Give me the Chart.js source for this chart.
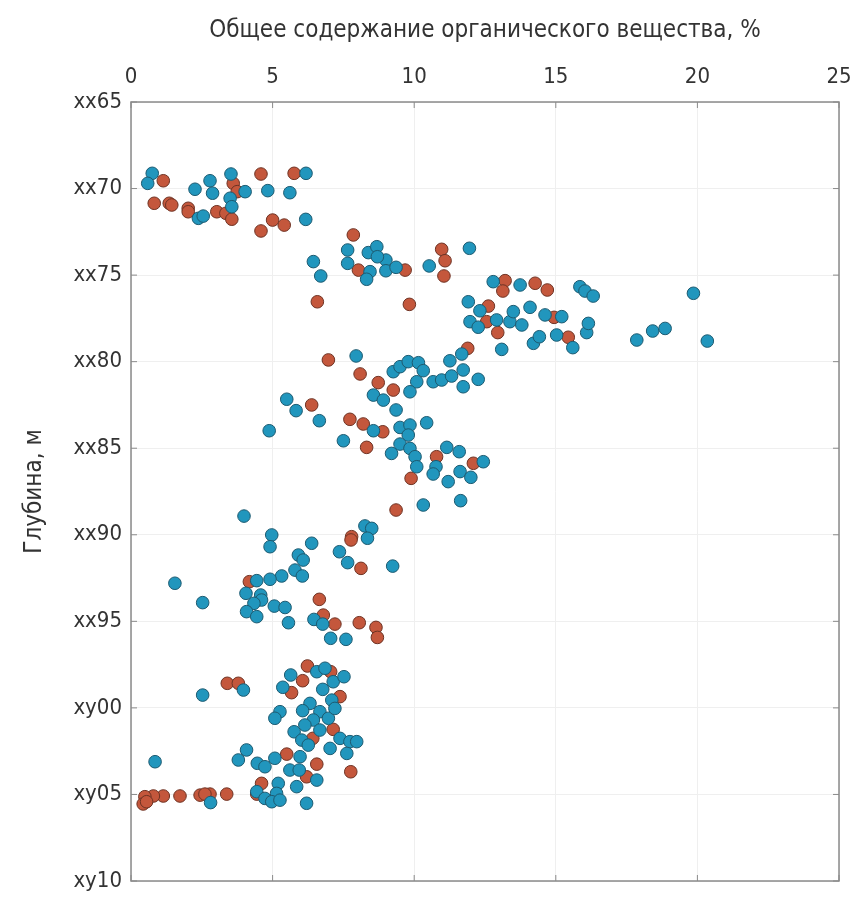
<!DOCTYPE html>
<html>
<head>
<meta charset="utf-8">
<script src="https://cdn.jsdelivr.net/npm/chart.js@4"></script>
<style>
  html, body { margin: 0; padding: 0; background: #fff; }
  #wrap { width: 859px; height: 897px; }
</style>
</head>
<body>
<div id="wrap"><canvas id="chart"></canvas></div>
<script>
// Данные: содержание органического вещества (%) и глубина (м)
const blueX = [
  0.75, 0.59, 2.26, 2.79, 2.88, 2.38, 2.55, 3.53, 4.03, 3.50, 3.56, 4.83, 6.18, 5.61, 6.17,
  7.65, 8.38, 8.68, 9.00, 8.70, 8.44, 8.32, 7.65, 9.00, 9.36, 6.44, 6.70, 10.53, 11.95, 12.79,
  13.74, 15.85, 16.03, 16.32, 11.91, 12.32, 11.97, 12.26, 12.91, 13.38, 13.50, 13.80, 14.09, 14.62, 15.21,
  14.21, 14.42, 15.03, 15.60, 16.09, 16.15, 13.09, 19.86, 17.86, 18.42, 18.86, 20.35,
  7.95, 9.26, 9.50, 9.79, 10.15, 10.32, 10.09, 9.85, 8.56, 8.91, 9.36, 10.67, 10.97, 11.32, 11.73,
  11.73, 12.26, 11.26, 11.68, 5.50, 5.83, 6.65, 4.88, 8.56, 9.50, 9.85, 10.44, 9.79, 7.50, 9.20,
  9.50, 9.85, 10.03, 11.15, 11.59, 12.44, 10.09, 10.77, 10.67, 11.20, 11.62, 12.00, 10.32, 11.64, 8.26, 8.50,
  3.99, 4.97, 4.91, 6.38, 5.91, 6.08, 5.79, 6.05, 5.32, 4.91, 4.44, 1.55, 4.06, 4.58, 4.61,
  4.34, 2.53, 4.08, 4.44, 5.06, 5.44, 5.56, 7.36, 7.65, 9.24, 8.35, 6.46, 6.77, 7.05, 7.59,
  2.53, 3.97, 5.64, 5.36, 6.56, 6.85, 7.14, 7.52, 6.77, 7.09, 6.32, 6.06, 5.26, 5.08, 6.67,
  6.97, 7.20, 6.44, 6.14, 5.76, 6.67, 6.03, 6.26, 7.38, 7.73, 7.97, 7.03, 7.62, 5.97, 5.08,
  4.46, 4.73, 4.08, 3.79, 0.85, 5.61, 5.94, 6.56, 5.85, 5.20, 4.44, 5.14, 4.73, 4.97, 5.26, 6.20, 2.81
];
const blueDepth = [
  69.12, 69.70, 70.04, 69.55, 70.27, 71.72, 71.59, 69.16, 70.18, 70.56, 71.05, 70.12, 69.12, 70.24, 71.78,
  73.55, 73.70, 73.36, 74.13, 73.94, 74.80, 75.24, 74.32, 74.75, 74.55, 74.22, 75.05, 74.47, 73.45, 75.38,
  75.57, 75.67, 75.92, 76.21, 76.54, 77.06, 77.69, 78.01, 77.59, 77.69, 77.11, 77.88, 76.86, 77.30, 77.40,
  78.94, 78.56, 78.46, 79.19, 78.32, 77.79, 79.29, 76.05, 78.75, 78.23, 78.08, 78.81,
  79.67, 80.58, 80.29, 80.00, 80.06, 80.52, 81.16, 81.74, 81.93, 82.22, 82.79, 81.16, 81.06, 80.83, 80.48,
  81.45, 81.02, 79.95, 79.56, 82.17, 82.83, 83.41, 83.99, 83.99, 83.80, 83.66, 83.53, 84.24, 84.57, 85.30,
  84.76, 85.01, 85.49, 84.95, 85.20, 85.78, 86.07, 86.07, 86.49, 86.93, 86.35, 86.68, 88.28, 88.03, 89.49, 89.63,
  88.92, 90.01, 90.69, 90.49, 91.17, 91.46, 92.04, 92.38, 92.38, 92.57, 92.65, 92.80, 93.38, 93.48, 93.77,
  93.96, 93.92, 94.44, 94.73, 94.12, 94.20, 95.08, 90.98, 91.61, 91.81, 90.20, 94.89, 95.16, 95.98, 96.04,
  99.26, 98.97, 98.10, 98.81, 97.91, 97.71, 98.49, 98.20, 98.93, 99.55, 99.74, 100.16, 100.22, 100.60, 100.22,
  100.60, 100.03, 100.70, 100.99, 101.38, 101.28, 101.86, 102.15, 101.76, 101.95, 101.95, 102.34, 102.63, 102.82, 102.91,
  103.20, 103.40, 102.43, 103.01, 103.11, 103.59, 103.59, 104.17, 104.55, 104.36, 104.84, 104.94, 105.23, 105.42, 105.33, 105.51, 105.47
];
const redX = [
  1.14, 0.82, 1.35, 1.44, 2.02, 2.02, 3.03, 3.35, 3.61, 3.75, 3.56, 4.59, 5.76, 5.00, 5.41, 4.59,
  7.85, 8.03, 9.68, 6.58, 9.83, 10.97, 11.09, 11.05, 13.21, 13.13, 14.27, 14.70, 12.62, 12.56, 12.95,
  14.94, 15.44, 11.89, 6.97, 8.09, 8.73, 9.26, 6.38, 7.73, 8.20, 8.89, 8.32, 10.79, 12.09, 9.89,
  9.36, 7.79, 7.77, 8.12, 4.18, 6.65, 6.79, 7.20, 8.06, 8.65, 8.70,
  3.40, 3.79, 6.23, 6.06, 5.67, 7.05, 7.38, 7.14, 6.42, 7.76, 5.50, 6.56, 6.20, 4.61, 4.44,
  3.38, 2.79, 2.44, 2.61, 1.73, 1.14, 0.79, 0.49, 0.43, 0.55
];
const redDepth = [
  69.55, 70.85, 70.85, 70.95, 71.14, 71.34, 71.34, 71.43, 69.70, 70.18, 71.77, 69.16, 69.12, 71.82, 72.11, 72.45,
  72.68, 74.71, 74.71, 76.54, 76.69, 73.51, 74.17, 75.05, 75.32, 75.92, 75.47, 75.86, 76.79, 77.69, 78.32,
  77.44, 78.59, 79.23, 79.90, 80.71, 81.21, 81.64, 82.50, 83.33, 83.60, 84.05, 84.95, 85.49, 85.87, 86.74,
  88.57, 90.11, 90.30, 91.94, 92.71, 93.73, 94.64, 95.16, 95.08, 95.35, 95.93,
  98.58, 98.58, 97.58, 98.43, 99.12, 97.91, 99.35, 101.24, 101.76, 103.69, 102.67, 103.25, 103.98, 104.36, 104.98,
  104.98, 104.98, 105.04, 104.98, 105.09, 105.09, 105.09, 105.13, 105.55, 105.42
];
const xTicks = [0, 5, 10, 15, 20, 25];
const depthTicks = [65, 70, 75, 80, 85, 90, 95, 100, 105, 110];
const depthTickLabels = ['xx65', 'xx70', 'xx75', 'xx80', 'xx85', 'xx90', 'xx95', 'xy00', 'xy05', 'xy10'];

const toPoints = (xs, ys) => xs.map((x, i) => ({ x: x, y: ys[i] }));

const FONT = "'Liberation Sans Narrow', 'DejaVu Sans Condensed', 'Liberation Sans', sans-serif";

// рамка вокруг области графика и короткие засечки внутрь
const frame = {
  id: 'frame',
  afterDatasetsDraw(chart) {
    const { ctx, chartArea: a, scales } = chart;
    ctx.save();
    ctx.strokeStyle = '#8a8a8a';
    ctx.lineWidth = 1.5;
    ctx.strokeRect(a.left, a.top, a.right - a.left, a.bottom - a.top);
    ctx.lineWidth = 1;
    xTicks.forEach(v => {
      const px = scales.x.getPixelForValue(v);
      ctx.beginPath();
      ctx.moveTo(px, a.top); ctx.lineTo(px, a.top + 6);
      ctx.moveTo(px, a.bottom); ctx.lineTo(px, a.bottom - 6);
      ctx.stroke();
    });
    depthTicks.forEach(v => {
      const py = scales.y.getPixelForValue(v);
      ctx.beginPath();
      ctx.moveTo(a.left, py); ctx.lineTo(a.left + 6, py);
      ctx.moveTo(a.right, py); ctx.lineTo(a.right - 6, py);
      ctx.stroke();
    });
    ctx.restore();
  }
};

const ctx = document.getElementById('chart').getContext('2d');
new Chart(ctx, {
  type: 'scatter',
  data: {
    datasets: [
      {
        label: 'red',
        data: toPoints(redX, redDepth),
        backgroundColor: '#c4573c',
        borderColor: '#6e3324',
        borderWidth: 1,
        pointRadius: 6.3,
        order: 2
      },
      {
        label: 'blue',
        data: toPoints(blueX, blueDepth),
        backgroundColor: '#2196bd',
        borderColor: '#1d5a70',
        borderWidth: 1,
        pointRadius: 6.3,
        order: 1
      }
    ]
  },
  options: {
    responsive: true,
    maintainAspectRatio: false,
    animation: false,
    layout: { padding: { left: 0, top: 0, right: 20, bottom: 16 } },
    plugins: { legend: { display: false }, tooltip: { enabled: false } },
    scales: {
      x: {
        type: 'linear',
        position: 'top',
        min: 0, max: 25,
        afterFit(s) { s.height = 102; s.paddingLeft = 0; s.paddingRight = 0; },
        afterBuildTicks(s) { s.ticks = xTicks.map(v => ({ value: v })); },
        grid: { color: '#efefef', drawTicks: false },
        border: { display: false },
        ticks: { color: '#333', padding: 12, font: { family: FONT, size: 22 } },
        title: {
          display: true,
          text: 'Общее содержание органического вещества, %',
          color: '#333',
          padding: { top: 16, bottom: 0 },
          font: { family: FONT, size: 24 }
        }
      },
      y: {
        type: 'linear',
        reverse: true,
        min: 65, max: 110,
        afterFit(s) { s.width = 131; s.paddingTop = 0; s.paddingBottom = 0; },
        afterBuildTicks(s) { s.ticks = depthTicks.map(v => ({ value: v })); },
        grid: { color: '#efefef', drawTicks: false },
        border: { display: false },
        ticks: {
          color: '#333', padding: 9,
          font: { family: FONT, size: 22 },
          callback: (v) => depthTickLabels[depthTicks.indexOf(v)]
        },
        title: {
          display: true,
          text: 'Глубина, м',
          color: '#333',
          padding: { top: 20, bottom: 0 },
          font: { family: FONT, size: 24 }
        }
      }
    }
  },
  plugins: [frame]
});
</script>
</body>
</html>
